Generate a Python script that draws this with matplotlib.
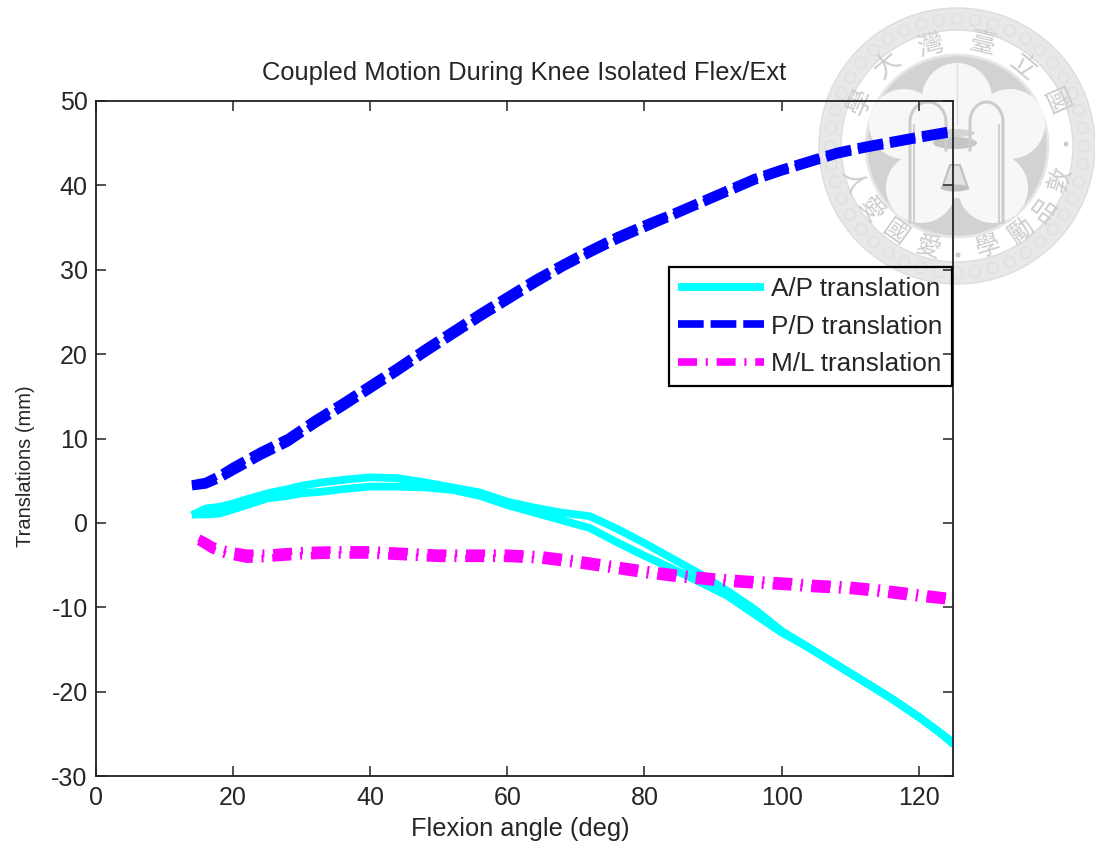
import numpy as np
import matplotlib
matplotlib.use('Agg')
import matplotlib.pyplot as plt
from matplotlib.patches import Circle, Wedge, Ellipse, Polygon

plt.rcParams['font.family'] = ['Liberation Sans', 'DejaVu Sans']
plt.rcParams['lines.scale_dashes'] = False
plt.rcParams['axes.unicode_minus'] = False

# A/P translation, up and back
ap_x_up = [14, 15, 16, 18, 20, 22, 25, 28, 30, 33, 36, 40, 44, 48, 52, 56, 60, 64, 68, 72, 76, 80, 84, 88, 92, 96, 100, 104, 108, 112, 116, 120, 123, 125]
ap_y_up = [0.9, 1.3, 1.7, 1.9, 2.3, 2.8, 3.5, 4.0, 4.4, 4.8, 5.1, 5.4, 5.3, 4.8, 4.2, 3.6, 2.5, 1.8, 1.2, 0.8, -0.7, -2.4, -4.2, -6.0, -8.0, -10.2, -12.8, -14.8, -16.8, -18.8, -20.8, -23.0, -24.8, -26.2]
ap_x_down = [125, 120, 116, 112, 108, 104, 100, 96, 92, 88, 84, 80, 76, 72, 68, 64, 60, 56, 52, 48, 44, 40, 36, 33, 30, 28, 25, 22, 20, 18, 16, 14]
ap_y_down = [-26.0, -23.0, -20.8, -18.8, -16.8, -14.8, -13.0, -10.8, -8.6, -7.0, -5.4, -3.9, -2.3, -0.6, 0.3, 1.2, 2.1, 3.2, 3.9, 4.2, 4.3, 4.3, 4.0, 3.7, 3.5, 3.2, 2.9, 2.1, 1.6, 1.1, 1.0, 1.0]

# P/D translation
pd_x = [14, 16, 18, 20, 24, 28, 32, 36, 40, 44, 48, 52, 56, 60, 64, 68, 72, 76, 80, 84, 88, 92, 96, 100, 104, 108, 112, 116, 120, 125]
pd_y_up = [4.6, 4.9, 5.7, 6.7, 8.5, 10.1, 12.3, 14.3, 16.4, 18.5, 20.7, 22.8, 24.9, 26.9, 28.9, 30.7, 32.4, 34.0, 35.4, 36.7, 38.1, 39.5, 40.9, 42.0, 43.0, 44.0, 44.7, 45.3, 45.9, 46.6]
pd_y_down = [4.3, 4.5, 5.2, 6.1, 7.9, 9.5, 11.7, 13.7, 15.8, 17.9, 20.1, 22.2, 24.3, 26.3, 28.3, 30.2, 31.9, 33.5, 34.9, 36.3, 37.7, 39.1, 40.5, 41.6, 42.6, 43.6, 44.3, 44.9, 45.5, 46.2]

# M/L translation
ml_x = [15, 16, 17, 19, 22, 25, 30, 35, 40, 45, 50, 55, 60, 65, 70, 75, 80, 85, 90, 95, 100, 105, 110, 115, 120, 125]
ml_y_up = [-1.8, -2.2, -2.7, -3.2, -3.6, -3.6, -3.3, -3.2, -3.2, -3.4, -3.6, -3.6, -3.6, -3.8, -4.3, -4.9, -5.5, -6.0, -6.4, -6.7, -6.9, -7.2, -7.4, -7.8, -8.3, -8.8]
ml_y_down = [-2.2, -2.7, -3.2, -3.8, -4.3, -4.2, -3.9, -3.8, -3.8, -4.0, -4.2, -4.2, -4.2, -4.4, -4.9, -5.5, -6.1, -6.6, -7.0, -7.3, -7.5, -7.8, -8.0, -8.4, -8.9, -9.3]

x_ticks = [0, 20, 40, 60, 80, 100, 120]
y_ticks = [-30, -20, -10, 0, 10, 20, 30, 40, 50]

seal_top = ['學', '大', '灣', '臺', '立', '國']
seal_top_xy = [(860, 102), (888, 65), (930, 45), (982, 43), (1023, 67), (1055, 102)]
seal_bottom = ['敦', '品', '勵', '學', '愛', '國', '愛', '人']
seal_bottom_xy = [(1060, 180), (1045, 210), (1022, 232), (988, 247), (928, 248), (895, 233), (870, 210), (852, 182)]

W, H = 1095, 850
text_col = '#262626'
fig = plt.figure(figsize=(W / 100, H / 100), dpi=100, facecolor='white')

# watermark goes under the plot, in pixel coordinates
bg = fig.add_axes([0, 0, 1, 1])
bg.set_xlim(0, W)
bg.set_ylim(H, 0)
bg.axis('off')
cx, cy = 957, 146
bg.add_patch(Wedge((cx, cy), 138, 0, 360, width=22, fc='#e8e8e8', ec='#dddddd', lw=1))
for a in np.linspace(0, 2 * np.pi, 44, endpoint=False):
    bg.add_patch(Circle((cx + 127 * np.cos(a), cy + 127 * np.sin(a)), 5.5, fc='none', ec='#e0e0e0', lw=1.1))
bg.add_patch(Circle((cx, cy), 91, fc='#d2d2d2', ec='#e6e6e6', lw=2))
lobes = [(957, 98), (1010, 124), (993, 188), (921, 188), (904, 124)]
for lx, ly in lobes:
    bg.add_patch(Circle((lx, ly), 35, fc='#f7f7f7', ec='none'))
bg.add_patch(Circle((cx + 1, cy + 2), 50, fc='#f7f7f7', ec='none'))
bg.plot([957, 957], [64, 125], color='#dedede', lw=1)
# the two arches
for x0, x2 in [(910, 946), (1003, 970)]:
    t = np.linspace(0, np.pi, 40)
    arch_x = (x0 + x2) / 2 + (x0 - x2) / 2 * np.cos(t)
    arch_y = 122 - 20 * np.sin(t)
    bg.plot(np.r_[x0, arch_x, x2], np.r_[222, arch_y, 150], color='#cccccc', lw=2.2)
    off = 4 if x0 < x2 else -4
    bg.plot([x0 + off, x0 + off], [222, 125], color='#d0d0d0', lw=1.5)
bg.add_patch(Ellipse((955, 143), 44, 12, fc='#c6c6c6', ec='none'))
bg.add_patch(Ellipse((955, 133), 40, 8, fc='#d4d4d4', ec='none'))
bg.add_patch(Polygon([(950, 165), (960, 165), (968, 188), (942, 188)], fc='#e2e2e2', ec='#c0c0c0', lw=1.5))
bg.add_patch(Ellipse((955, 188), 28, 7, fc='#c0c0c0', ec='none'))
for s, (px, py) in zip(seal_top, seal_top_xy):
    rot = -np.degrees(np.arctan2(px - cx, cy - py))
    bg.text(px, py, s, family='Noto Sans CJK TC', fontsize=19, color='#cdcdcd', rotation=rot,
            rotation_mode='anchor', ha='center', va='center')
for s, (px, py) in zip(seal_bottom, seal_bottom_xy):
    rot = np.degrees(np.arctan2(px - cx, py - cy))
    bg.text(px, py, s, family='Noto Sans CJK TC', fontsize=18, color='#cdcdcd', rotation=rot,
            rotation_mode='anchor', ha='center', va='center')
bg.add_patch(Circle((1066, 144), 2.5, fc='#cdcdcd', ec='none'))
bg.add_patch(Circle((958, 255), 2.5, fc='#cdcdcd', ec='none'))

# main plot
ax = fig.add_axes([96 / W, 1 - 776 / H, (953 - 96) / W, 675 / H], zorder=2)
ax.set_facecolor('none')

dash = (0, (18.5, 5.0))
dashdot = (0, (13.7, 6.3, 1.5, 6.3))
ax.plot(ap_x_up + ap_x_down, ap_y_up + ap_y_down, color='#00ffff', lw=5.6, ls='-', label='A/P translation', solid_capstyle='butt')
ax.plot(pd_x, pd_y_up, color='#0000ff', lw=5.5, ls=dash, dash_capstyle='butt')
ax.plot(pd_x, pd_y_down, color='#0000ff', lw=5.5, ls=dash, label='P/D translation', dash_capstyle='butt')
ax.plot(ml_x, ml_y_up, color='#ff00ff', lw=5.5, ls=dashdot, label='M/L translation', dash_capstyle='butt')
ax.plot(ml_x, ml_y_down, color='#ff00ff', lw=5.5, ls=dashdot, dash_capstyle='butt')

ax.set_xlim(0, 125)
ax.set_ylim(-30, 50)
ax.set_xticks(x_ticks)
ax.set_yticks(y_ticks)
ax.tick_params(direction='in', length=7, width=1.2, top=True, right=True, labelsize=18,
               labelcolor=text_col, color='#333333', pad=7)
ax.tick_params(axis='y', pad=6)
for s in ax.spines.values():
    s.set_linewidth(1.3)
    s.set_color('#222222')
ax.set_title('Coupled Motion During Knee Isolated Flex/Ext', fontsize=18.4, color=text_col, pad=15)
ax.set_xlabel('Flexion angle (deg)', fontsize=18.3, color=text_col, labelpad=5, x=0.495)
ax.set_ylabel('Translations (mm)', fontsize=14.5, color=text_col, labelpad=12, y=0.459)

leg = ax.legend(loc='upper right', bbox_to_anchor=(952 / W, 1 - 267 / H), bbox_transform=fig.transFigure,
                fontsize=18.8, fancybox=False, edgecolor='black', framealpha=1, borderaxespad=0,
                handlelength=3.3, handletextpad=0.25, labelspacing=0.53, borderpad=0.37, labelcolor=text_col)
leg.get_frame().set_facecolor('none')
leg.get_frame().set_linewidth(1.6)

fig.savefig('out.png', dpi=100)
